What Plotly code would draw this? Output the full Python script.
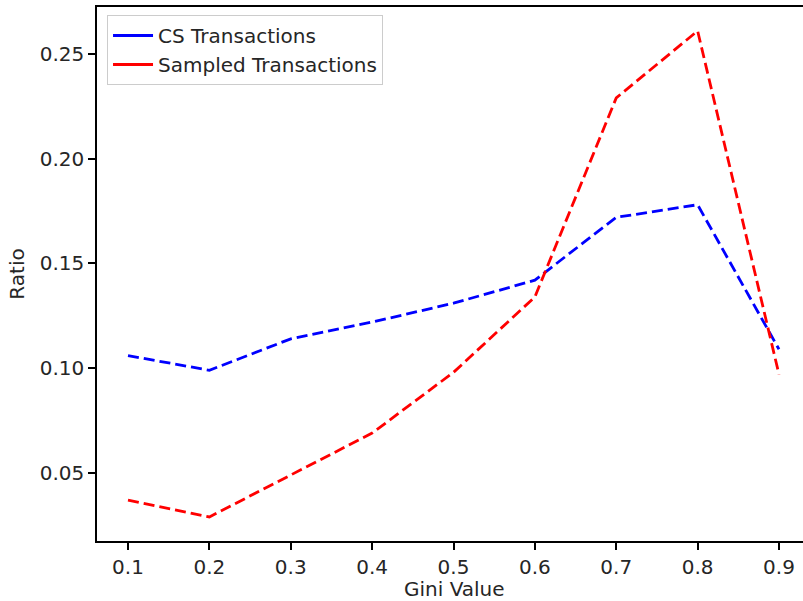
import plotly.graph_objects as go

gini = [0.1, 0.2, 0.3, 0.4, 0.5, 0.6, 0.7, 0.8, 0.9]
cs_ratio = [0.106, 0.099, 0.114, 0.122, 0.131, 0.142, 0.172, 0.178, 0.109]
sampled_ratio = [0.037, 0.029, 0.049, 0.069, 0.098, 0.134, 0.229, 0.261, 0.097]
series_names = ["CS Transactions", "Sampled Transactions"]
y_ticks = [0.05, 0.10, 0.15, 0.20, 0.25]

FONT = dict(family="DejaVu Sans", size=20, color="#262626")
dash = "11px,5px"

fig = go.Figure()
fig.add_trace(go.Scatter(x=gini, y=cs_ratio, mode="lines", showlegend=False,
                         line=dict(color="blue", width=2.8, dash=dash)))
fig.add_trace(go.Scatter(x=gini, y=sampled_ratio, mode="lines", showlegend=False,
                         line=dict(color="red", width=2.8, dash=dash)))
# legend entries (solid samples as in the reference)
fig.add_trace(go.Scatter(x=[None], y=[None], mode="lines", name=series_names[0],
                         line=dict(color="blue", width=2.8)))
fig.add_trace(go.Scatter(x=[None], y=[None], mode="lines", name=series_names[1],
                         line=dict(color="red", width=2.8)))

axis_common = dict(showline=True, linecolor="black", linewidth=1.5, ticks="outside",
                   ticklen=7, tickwidth=1.5, tickcolor="black", showgrid=False,
                   zeroline=False, tickfont=FONT)

fig.update_layout(
    width=803, height=601,
    margin=dict(l=97, r=0, t=7, b=60, pad=0),
    paper_bgcolor="white", plot_bgcolor="white",
    font=FONT,
    xaxis=dict(range=[0.0619, 0.9295], tickvals=gini, tickformat=".1f", mirror=True,
               **axis_common),
    yaxis=dict(range=[0.0175, 0.2724], tickvals=y_ticks, tickformat=".2f",
               title=dict(text="Ratio", font=FONT, standoff=10), **axis_common),
    legend=dict(x=0.0142, y=0.985, xanchor="left", yanchor="top",
                bgcolor="white", bordercolor="#cccccc", borderwidth=1,
                font=FONT, itemwidth=40, tracegroupgap=4),
)
fig.add_annotation(text="Gini Value", xref="paper", yref="paper", x=0.5057, y=0,
                   yshift=-48, yanchor="middle", showarrow=False, font=FONT,
                   borderpad=0)

fig.write_html("out.html")
